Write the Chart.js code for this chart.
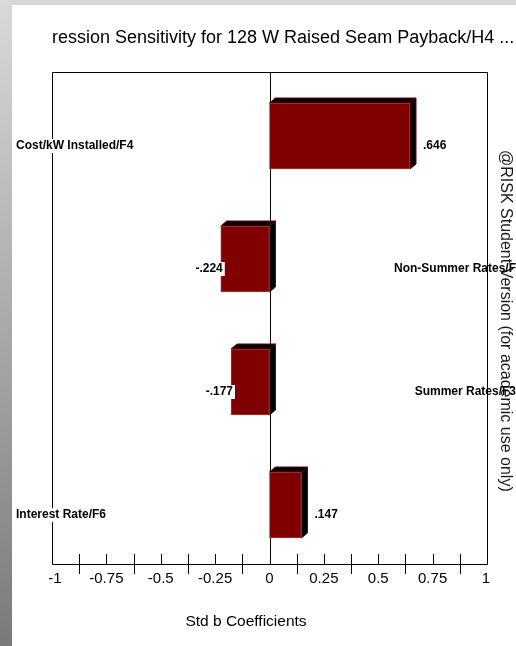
<!DOCTYPE html>
<html>
<head>
<meta charset="utf-8">
<title>Regression Sensitivity</title>
<script src="https://cdn.jsdelivr.net/npm/chart.js@4.4.1/dist/chart.umd.min.js"></script>
<style>
  html, body { margin: 0; padding: 0; background: #ffffff; }
  canvas { display: block; }
</style>
</head>
<body>
<canvas id="chart" width="516" height="646"></canvas>
<script>
// Inputs ranked by standardised regression coefficient
const categories = ['Cost/kW Installed/F4', 'Non-Summer Rates/F', 'Summer Rates/F3', 'Interest Rate/F6'];
const coefficients = [0.646, -0.224, -0.177, 0.147];

// Axis ticks
const tickValues = [-1, -0.75, -0.5, -0.25, 0, 0.25, 0.5, 0.75, 1];
const tickLabels = ['-1', '-0.75', '-0.5', '-0.25', '0', '0.25', '0.5', '0.75', '1'];

const titleText = 'ression Sensitivity for 128 W Raised Seam Payback/H4 ...';
const axisTitleText = 'Std b Coefficients';
const watermarkText = '@RISK Student Version (for academic use only)';

const FONT = '"Liberation Sans", Arial, Helvetica, sans-serif';
const DEPTH_X = 6;   // 3D extrusion, horizontal
const DEPTH_Y = 5;   // 3D extrusion, vertical

function fmtCoef(v) {
  return v.toFixed(3).replace(/^(-?)0\./, '$1.');
}

function barBox(el) {
  const L = Math.min(el.x, el.base);
  const R = Math.max(el.x, el.base);
  const T = el.y - el.height / 2 + DEPTH_Y / 2;
  const B = el.y + el.height / 2 + DEPTH_Y / 2;
  return { L, R, T, B };
}

const decorations = {
  id: 'decorations',
  beforeDraw(chart) {
    const ctx = chart.ctx;
    const W = chart.width, H = chart.height;
    ctx.save();
    ctx.fillStyle = '#ffffff';
    ctx.fillRect(0, 0, W, H);
    ctx.fillStyle = '#d6d6d6';
    ctx.fillRect(0, 0, W, 5);
    const g = ctx.createLinearGradient(0, 0, 0, H);
    g.addColorStop(0, '#d9d9d9');
    g.addColorStop(1, '#7a7a7a');
    ctx.fillStyle = g;
    ctx.fillRect(0, 0, 12, H);

    // title
    ctx.fillStyle = '#000000';
    ctx.font = '18px ' + FONT;
    ctx.textAlign = 'left';
    ctx.textBaseline = 'alphabetic';
    ctx.fillText(titleText, 52, 43);
    ctx.restore();
  },
  beforeDatasetsDraw(chart) {
    const ctx = chart.ctx;
    const a = chart.chartArea;
    const xs = chart.scales.x;
    const l = Math.round(a.left) + 0.5, r = Math.round(a.right) + 0.5;
    const t = Math.round(a.top) + 0.5, b = Math.round(a.bottom) + 0.5;
    const z = Math.round(xs.getPixelForValue(0)) + 0.5;

    ctx.save();
    ctx.strokeStyle = '#000000';
    ctx.lineWidth = 1;
    ctx.beginPath();
    ctx.moveTo(l, b); ctx.lineTo(l, t); ctx.lineTo(r, t); ctx.lineTo(r, b); ctx.lineTo(l, b);
    ctx.moveTo(z, t); ctx.lineTo(z, b);
    ctx.stroke();

    // extruded top and side faces of each bar
    const meta = chart.getDatasetMeta(0);
    meta.data.forEach((el) => {
      const { L, R, T, B } = barBox(el);
      ctx.fillStyle = '#000000';
      ctx.strokeStyle = '#6b0000';
      ctx.beginPath();
      ctx.moveTo(L, T); ctx.lineTo(L + DEPTH_X, T - DEPTH_Y);
      ctx.lineTo(R + DEPTH_X, T - DEPTH_Y); ctx.lineTo(R, T);
      ctx.closePath();
      ctx.fill(); ctx.stroke();
      ctx.beginPath();
      ctx.moveTo(R, T); ctx.lineTo(R + DEPTH_X, T - DEPTH_Y);
      ctx.lineTo(R + DEPTH_X, B - DEPTH_Y); ctx.lineTo(R, B);
      ctx.closePath();
      ctx.fill(); ctx.stroke();
    });
    ctx.restore();

    // front faces sit below the band centre by half the depth
    ctx.save();
    ctx.translate(0, DEPTH_Y / 2);
  },
  afterDatasetsDraw(chart) {
    chart.ctx.restore();
  },
  afterDraw(chart) {
    const ctx = chart.ctx;
    const a = chart.chartArea;
    const xs = chart.scales.x;
    const ys = chart.scales.y;
    const b = Math.round(a.bottom);

    ctx.save();
    // tick marks every 0.125
    ctx.strokeStyle = '#000000';
    ctx.lineWidth = 1;
    ctx.beginPath();
    for (let k = -7; k <= 7; k++) {
      if (k === 0) continue;
      const x = Math.round(xs.getPixelForValue(k / 8)) + 0.5;
      const odd = Math.abs(k) % 2 === 1;
      ctx.moveTo(x, b - 10);
      ctx.lineTo(x, odd ? b + 10 : b);
    }
    ctx.stroke();

    // tick labels
    ctx.fillStyle = '#000000';
    ctx.font = '15px ' + FONT;
    ctx.textAlign = 'center';
    ctx.textBaseline = 'alphabetic';
    tickValues.forEach((v, i) => {
      let x = xs.getPixelForValue(v);
      if (i === 0) x += 3;
      if (i === tickValues.length - 1) x -= 1;
      ctx.fillText(tickLabels[i], x, b + 19);
    });

    // axis title
    ctx.font = '15.5px ' + FONT;
    ctx.fillText(axisTitleText, 246, 626);

    // watermark
    ctx.save();
    ctx.translate(501, 150);
    ctx.rotate(Math.PI / 2);
    ctx.font = '16px ' + FONT;
    ctx.textAlign = 'left';
    ctx.fillStyle = '#1a1a1a';
    ctx.fillText(watermarkText, 0, 0);
    ctx.restore();

    // value and category labels
    const meta = chart.getDatasetMeta(0);
    ctx.font = 'bold 12px ' + FONT;
    ctx.textBaseline = 'middle';
    meta.data.forEach((el, i) => {
      const v = coefficients[i];
      const { L, R } = barBox(el);
      const y = ys.getPixelForValue(i) + 12.5;
      const txt = fmtCoef(v);
      const w = ctx.measureText(txt).width;
      if (v >= 0) {
        ctx.textAlign = 'left';
        ctx.fillStyle = '#000000';
        ctx.fillText(txt, R + DEPTH_X + 7, y);
        // category name on the left
        const cw = ctx.measureText(categories[i]).width;
        ctx.fillStyle = '#ffffff';
        ctx.fillRect(15, y - 7, cw + 2, 14);
        ctx.fillStyle = '#000000';
        ctx.fillText(categories[i], 16, y);
      } else {
        ctx.fillStyle = '#ffffff';
        ctx.fillRect(L + 2 - w - 1, y - 7, w + 3, 14);
        ctx.textAlign = 'right';
        ctx.fillStyle = '#000000';
        ctx.fillText(txt, L + 2, y);
        // category name on the right
        ctx.fillText(categories[i], 516, y);
      }
    });
    ctx.restore();
  }
};

new Chart(document.getElementById('chart'), {
  type: 'bar',
  data: {
    labels: categories,
    datasets: [{
      data: coefficients,
      backgroundColor: '#800000',
      borderColor: '#a83a3a',
      borderWidth: 1,
      borderSkipped: false,
      barThickness: 66
    }]
  },
  options: {
    indexAxis: 'y',
    responsive: false,
    animation: false,
    devicePixelRatio: 1,
    layout: { padding: { left: 52, right: 29, top: 72, bottom: 82 } },
    scales: {
      x: { type: 'linear', min: -1, max: 1, display: false },
      y: { type: 'category', offset: true, display: false }
    },
    plugins: {
      legend: { display: false },
      tooltip: { enabled: false },
      title: { display: false }
    }
  },
  plugins: [decorations]
});
</script>
</body>
</html>
